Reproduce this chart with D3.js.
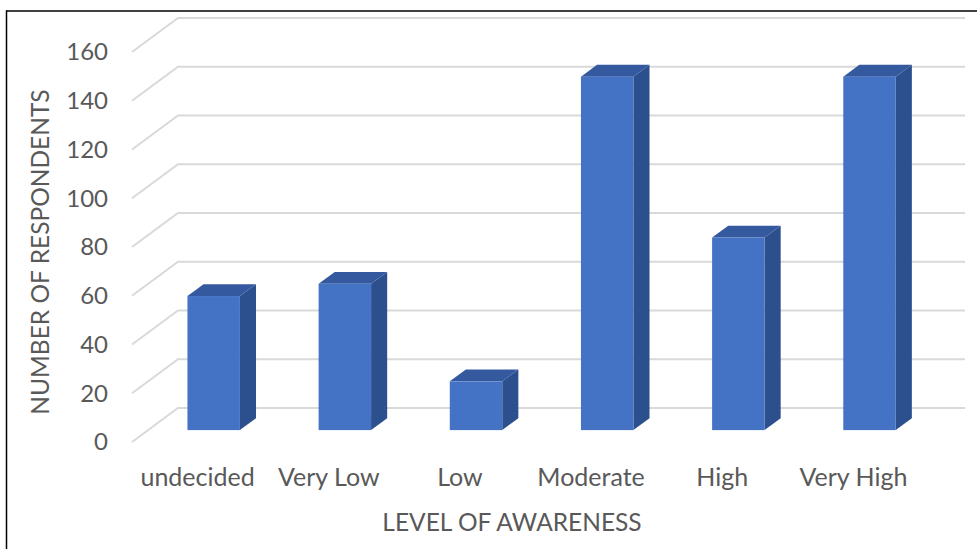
<!DOCTYPE html>
<html>
<head>
<meta charset="utf-8">
<script src="https://cdn.jsdelivr.net/npm/d3@7"></script>
<style>
  html, body { margin: 0; padding: 0; background: #fff; }
  svg { display: block; }
  text { font-family: Lato, "Open Sans", sans-serif; fill: #595959; }
</style>
</head>
<body>
<svg id="chart" width="977" height="549"></svg>
<script>
// Respondents by level of awareness
const categories = ["undecided", "Very Low", "Low", "Moderate", "High", "Very High"];
const respondents = [55, 60, 20, 145, 79, 145];
const yTicks = [0, 20, 40, 60, 80, 100, 120, 140, 160];
const xTitle = "LEVEL OF AWARENESS";
const yTitle = "NUMBER OF RESPONDENTS";

const W = 977, H = 549;
const svg = d3.select("#chart");

// oblique 3D projection: full floor depth shifts points right and up
const DEPTH_X = 46, DEPTH_Y = -34;
const depth = (d) => [DEPTH_X * d, DEPTH_Y * d];

// scales on the front plane of the floor
const x = d3.scaleBand().domain(categories).range([132, 919]);
const y = d3.scaleLinear().domain([0, 160]).range([442, 52]);

// figure frame
svg.append("line").attr("x1", 6).attr("x2", W).attr("y1", 11).attr("y2", 11)
  .attr("stroke", "#000").attr("stroke-width", 1.5);
svg.append("line").attr("x1", 6.5).attr("x2", 6.5).attr("y1", 10.5).attr("y2", H)
  .attr("stroke", "#000").attr("stroke-width", 1.5);

// gridlines: side-wall diagonal + back-wall horizontal
const [bx, by] = depth(1);
svg.append("g").selectAll("path").data(yTicks).join("path")
  .attr("d", t => `M${x.range()[0]},${y(t)} L${x.range()[0] + bx},${y(t) + by} L${x.range()[1] + bx},${y(t) + by}`)
  .attr("fill", "none")
  .attr("stroke", "#d9d9d9")
  .attr("stroke-width", 2);

// y tick labels
svg.append("g").selectAll("text").data(yTicks).join("text")
  .attr("x", 108).attr("y", t => y(t))
  .attr("dy", "0.35em")
  .attr("text-anchor", "end")
  .attr("font-size", 24)
  .text(t => t);

// bars as prisms
const FRONT = 0.35, BACK = 0.7;
const barW = x.bandwidth() * 0.4;
const bars = svg.append("g").selectAll("g").data(categories.map((c, i) => ({ c, v: respondents[i] })))
  .join("g");

bars.each(function (d) {
  const g = d3.select(this);
  const [fx, fy] = depth(FRONT);
  const [kx, ky] = depth(BACK);
  const cx = x(d.c) + x.bandwidth() / 2;
  const x0 = cx - barW / 2 + fx, x1 = cx + barW / 2 + fx;
  const yb = y(0) + fy, yt = y(d.v) + fy;
  const sx = kx - fx, sy = ky - fy;
  // side face
  g.append("path")
    .attr("d", `M${x1},${yt} L${x1 + sx},${yt + sy} L${x1 + sx},${yb + sy} L${x1},${yb} Z`)
    .attr("fill", "#2c4f8e");
  // top face
  g.append("path")
    .attr("d", `M${x0},${yt} L${x0 + sx},${yt + sy} L${x1 + sx},${yt + sy} L${x1},${yt} Z`)
    .attr("fill", "#35599f");
  // front face
  g.append("rect")
    .attr("x", x0).attr("y", yt)
    .attr("width", barW).attr("height", yb - yt)
    .attr("fill", "#4472c4");
});

// category labels
svg.append("g").selectAll("text").data(categories).join("text")
  .attr("x", c => x(c) + x.bandwidth() / 2)
  .attr("y", 477)
  .attr("dy", "0.35em")
  .attr("text-anchor", "middle")
  .attr("font-size", 25)
  .text(c => c);

// axis titles
svg.append("text")
  .attr("x", 512).attr("y", 522)
  .attr("dy", "0.35em")
  .attr("text-anchor", "middle")
  .attr("font-size", 24.5)
  .text(xTitle);

svg.append("text")
  .attr("transform", "translate(40,252) rotate(-90)")
  .attr("dy", "0.35em")
  .attr("text-anchor", "middle")
  .attr("font-size", 24.5)
  .text(yTitle);
</script>
</body>
</html>
